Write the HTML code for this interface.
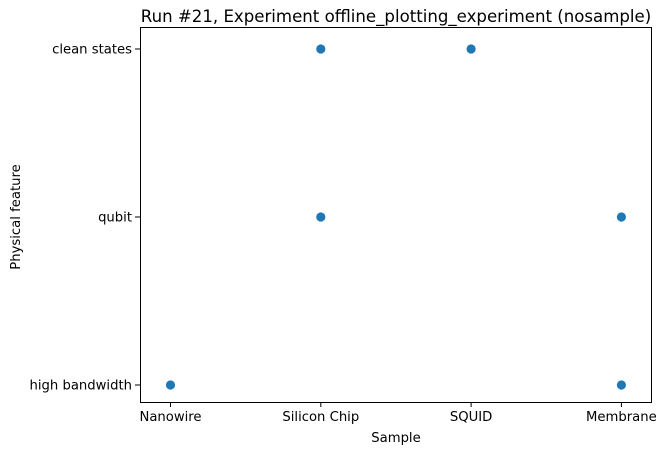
<!DOCTYPE html>
<html><head><meta charset="utf-8"><style>
body{margin:0;background:#fff;}
svg{display:block;font-family:"DejaVu Sans","Liberation Sans",sans-serif;}
</style></head><body>
<svg id="chart" width="668" height="455">
<rect x="0" y="0" width="668" height="455" fill="#fff"/>
<text x="396" y="22" font-size="16.6" text-anchor="middle">Run #21, Experiment offline_plotting_experiment (nosample)</text>
<text x="396" y="442" font-size="13.2" text-anchor="middle">Sample</text>
<text x="20" y="217" font-size="13.2" text-anchor="middle" transform="rotate(-90 20 217)">Physical feature</text>
<g id="ticks"></g>
<g id="points"></g>
<rect x="140.5" y="27.5" width="511" height="375" fill="none" stroke="#000" stroke-width="1"/>
</svg>
<script>
const xCategories = ["Nanowire","Silicon Chip","SQUID","Membrane"];
const yCategories = ["high bandwidth","qubit","clean states"];
const pointX = ["Nanowire","Silicon Chip","Silicon Chip","SQUID","Membrane","Membrane"];
const pointY = ["high bandwidth","clean states","qubit","clean states","qubit","high bandwidth"];

const NS="http://www.w3.org/2000/svg";
function xScale(c){return 170.5 + xCategories.indexOf(c)*150.3;}
function yScale(c){return 385 - yCategories.indexOf(c)*168;}
const ticks=document.getElementById('ticks');
xCategories.forEach(c=>{
  const x=xScale(c);
  const l=document.createElementNS(NS,'line');
  l.setAttribute('x1',x);l.setAttribute('x2',x);l.setAttribute('y1',402);l.setAttribute('y2',407);l.setAttribute('stroke','#000');
  
  
  ticks.appendChild(l);
  const t=document.createElementNS(NS,'text');
  t.setAttribute('x',x);t.setAttribute('y',421);t.setAttribute('font-size','13.2');t.setAttribute('text-anchor','middle');
  t.textContent=c;
  
  
  ticks.appendChild(t);
});
yCategories.forEach(c=>{
  const y=yScale(c);
  const l=document.createElementNS(NS,'line');
  l.setAttribute('x1',135);l.setAttribute('x2',140);l.setAttribute('y1',y);l.setAttribute('y2',y);l.setAttribute('stroke','#000');
  
  
  ticks.appendChild(l);
  const t=document.createElementNS(NS,'text');
  t.setAttribute('x',132);t.setAttribute('y',y+4.5);t.setAttribute('font-size','13.2');t.setAttribute('text-anchor','end');
  t.textContent=c;
  
  
  ticks.appendChild(t);
});
const pts=document.getElementById('points');
pointX.forEach((c,i)=>{
  const p=document.createElementNS(NS,'circle');
  p.setAttribute('cx',xScale(c));p.setAttribute('cy',yScale(pointY[i]));p.setAttribute('r',4.6);p.setAttribute('fill','#1f77b4');
  
  
  pts.appendChild(p);
});
</script>
</body></html>
